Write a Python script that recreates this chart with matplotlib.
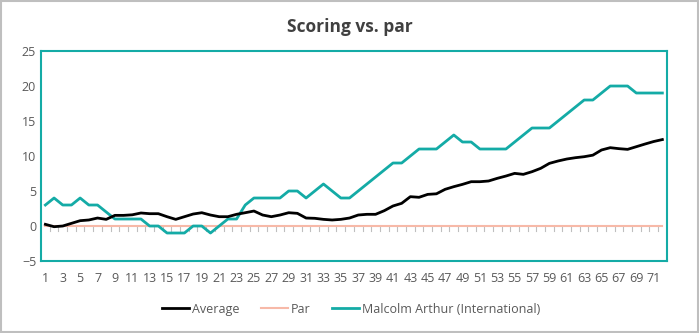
import matplotlib
import matplotlib.pyplot as plt
import numpy as np
from matplotlib.patches import Rectangle

matplotlib.use('Agg')

plt.rcParams['font.family'] = ['Open Sans', 'DejaVu Sans']

# Cumulative score relative to par, hole by hole
holes = list(range(1, 73))

average = [0.24, -0.1, 0.0, 0.38, 0.76, 0.86, 1.14, 0.95, 1.52, 1.52,
           1.6, 1.86, 1.76, 1.76, 1.33, 0.95, 1.33, 1.71, 1.9, 1.57,
           1.33, 1.33, 1.67, 1.9, 2.14, 1.57, 1.33, 1.57, 1.9, 1.81,
           1.14, 1.1, 0.95, 0.86, 0.95, 1.14, 1.57, 1.67, 1.67, 2.19,
           2.86, 3.24, 4.19, 4.1, 4.52, 4.6, 5.24, 5.62, 5.95, 6.33,
           6.33, 6.43, 6.81, 7.14, 7.52, 7.38, 7.76, 8.24, 8.95, 9.29,
           9.57, 9.76, 9.9, 10.12, 10.86, 11.19, 11.05, 10.95, 11.33, 11.71,
           12.07, 12.35]

par = [0] * 72

malcolm = [3, 4, 3, 3, 4, 3, 3, 2, 1, 1,
           1, 1, 0, 0, -1, -1, -1, 0, 0, -1,
           0, 1, 1, 3, 4, 4, 4, 4, 5, 5,
           4, 5, 6, 5, 4, 4, 5, 6, 7, 8,
           9, 9, 10, 11, 11, 11, 12, 13, 12, 12,
           11, 11, 11, 11, 12, 13, 14, 14, 14, 15,
           16, 17, 18, 18, 19, 20, 20, 20, 19, 19,
           19, 19]

teal = '#14ABA6'
salmon = '#F7B9A8'
grey_text = '#595959'

fig = plt.figure(figsize=(6.99, 3.33), dpi=100)
ax = fig.add_axes([0.0587, 0.2162, 0.8951, 0.6306])

ax.plot(holes, average, color='black', lw=2.0, label='Average', zorder=4)
ax.plot(holes, par, color=salmon, lw=1.5, label='Par', zorder=2)
ax.plot(holes, malcolm, color=teal, lw=2.0, label='Malcolm Arthur (International)', zorder=3)

ax.set_xlim(0.5, 72.5)
ax.set_ylim(-5, 25)
ax.set_yticks(range(-5, 26, 5))
ax.set_xticks(holes[::2])
ax.tick_params(axis='both', length=0, labelsize=9, colors=grey_text)
ax.tick_params(axis='x', pad=8)

# category boundary ticks along the zero line
for b in np.arange(1.5, 72.5, 1.0):
    ax.plot([b, b], [0, -0.7], color='#BFBFBF', lw=0.8, zorder=1)

for s in ax.spines.values():
    s.set_color(teal)
    s.set_linewidth(1.5)

fig.text(0.5, 0.918, 'Scoring vs. par', ha='center', va='center',
         fontsize=12.5, fontweight='bold', color='#404040')

leg = fig.legend(loc='center', bbox_to_anchor=(0.502, 0.072), ncol=3, frameon=False,
                 fontsize=9, handlelength=2.2, columnspacing=1.7, handletextpad=0.2)
for t in leg.get_texts():
    t.set_color(grey_text)

fig.patches.append(Rectangle((0.001, 0.002), 0.997, 0.995, transform=fig.transFigure,
                             fill=False, edgecolor='#BFBFBF', lw=1.5))

fig.savefig('out.png', dpi=100)
